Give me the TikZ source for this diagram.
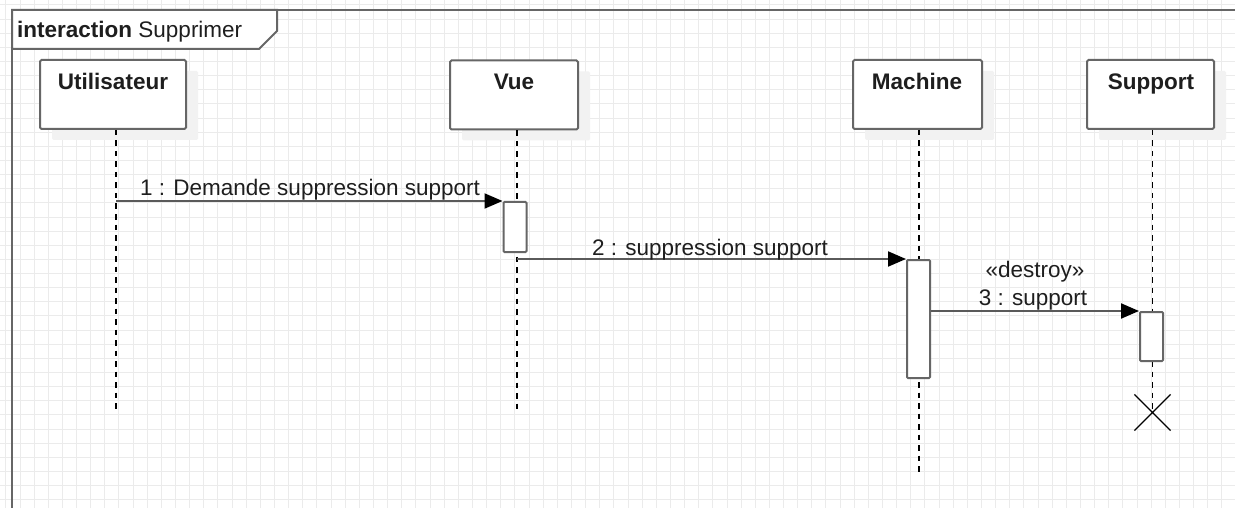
\documentclass[tikz,border=0pt]{standalone}
\usepackage{fontspec}
\setmainfont{Liberation Sans}
\usetikzlibrary{arrows.meta,shapes.misc,shadows}
\definecolor{gridc}{HTML}{EBEBEB}
\definecolor{linec}{HTML}{666666}
\definecolor{msgc}{HTML}{5A5A5A}
\definecolor{shadowc}{HTML}{F2F2F2}
\definecolor{txtc}{HTML}{1E1E1E}
\tikzset{
  frameline/.style={draw=linec, line width=2pt},
  headbox/.style={draw=linec, line width=2pt, fill=white, rounded corners=1.5pt,
    minimum width=146pt, minimum height=69pt, inner sep=0pt,
    drop shadow={shadow xshift=12pt, shadow yshift=-11pt, fill=shadowc, opacity=1}},
  headtxt/.style={font=\fontsize{22.5}{27}\selectfont\bfseries, text=txtc, inner sep=0pt, anchor=base},
  lbl/.style={font=\fontsize{22.5}{27}\selectfont, text=txtc, inner sep=0pt, anchor=base},
  lifeline/.style={draw=black, line width=1.6pt, dash pattern=on 5.5pt off 5pt},
  act/.style={draw=linec, line width=2pt, fill=white, rounded corners=1pt, minimum width=23pt, inner sep=0pt},
  msg/.style={draw=msgc, line width=2pt, -{Triangle[length=18pt,width=15pt,fill=black,color=black]}},
  xmark/.style={cross out, draw=black, line width=1.2pt, minimum size=35pt, inner sep=0pt},
}
\begin{document}
\begin{tikzpicture}[x=1pt,y=-1pt]
\useasboundingbox (0,0) rectangle (1235,508);
\fill[white] (0,0) rectangle (1235,508);
% grid
\foreach \i in {0,...,87} \draw[gridc, line width=1pt] ({5.86+\i*14.14},0) -- ++(0,508);
\foreach \j in {0,...,35} \draw[gridc, line width=1pt] (0,{4.9+\j*14.14}) -- ++(1235,0);
% frame
\draw[frameline] (12,508) -- (12,10) -- (1235,10);
\draw[frameline, fill=white] (12,10) -- (277,10) -- (277,31) -- (259,49) -- (12,49) -- cycle;
\node[lbl, anchor=base west] (title) at (17,38) {\textbf{interaction} Supprimer};
% heads
\node[headbox] (U) at (113,94.5) {};
\node[headbox, minimum width=128pt] (V) at (514,95) {};
\node[headbox, minimum width=129pt] (M) at (917.5,94.5) {};
\node[headbox, minimum width=127pt] (S) at (1150.5,94.5) {};
\node[headtxt] (Ut) at (113,90) {Utilisateur};
\node[headtxt] (Vt) at (514,90) {Vue};
\node[headtxt] (Mt) at (917,90) {Machine};
\node[headtxt] (St) at (1151,90) {Support};
% lifeline ends
\coordinate (Uend) at (116,412);
\coordinate (Vend) at (517,412);
\coordinate (Mend) at (919,474);
\node[xmark] (Sx) at (1152.5,412.5) {};
\draw[lifeline] (U.south -| Uend) -- (Uend);
\draw[lifeline] (V.south -| Vend) -- (Vend);
\draw[lifeline] (M.south -| Mend) -- (Mend);
\draw[lifeline] (S.south -| Sx) -- (Sx.center);
% activations
\node[act, minimum height=50pt] (Va) at (515,227) {};
\node[act, minimum height=118pt] (Ma) at (918.5,319) {};
\node[act, minimum height=49pt] (Sa) at (1151.5,336.5) {};
% messages
\draw[msg] (Va.north west -| Uend) -- (Va.north west);
\draw[msg] (Ma.north west -| Vend) -- (Ma.north west);
\draw[msg] (Ma.east |- Sa.north west) -- (Sa.north west);
\node[lbl] (m1) at (310,196) {1 : Demande suppression support};
\node[lbl] (m2) at (710,255) {2 : suppression support};
\node[lbl] (m3a) at (1035,277) {«destroy»};
\node[lbl] (m3b) at (1033,305) {3 : support};
\end{tikzpicture}
\end{document}
